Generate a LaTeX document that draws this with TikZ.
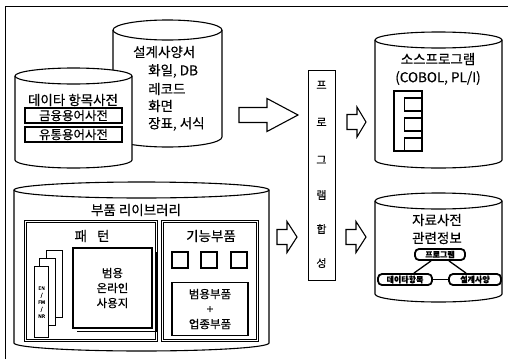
\documentclass[tikz,border=0pt]{standalone}
\usepackage{fontspec}
\setmainfont{Noto Sans CJK KR}[FakeBold=0.4]
\newcommand\cylshape[5]{%
  \pgfmathsetmacro\cylrx{(#2-#1)/2}%
  \filldraw[cylline, fill=white] (#1,#3) -- (#1,#4)
    arc[start angle=180, end angle=360, x radius=\cylrx pt, y radius=#5 pt]
    -- (#2,#3)
    arc[start angle=0, end angle=180, x radius=\cylrx pt, y radius=#5 pt] -- cycle;
  \draw[cylline] (#1,#3) arc[start angle=180, end angle=360, x radius=\cylrx pt, y radius=#5 pt];}
\newcommand\hollowarrow[6]{%
  \draw[arrowline] (#1,{#4-#5}) -- (#2,{#4-#5}) -- (#2,{#4-#6}) -- (#3,#4)
    -- (#2,{#4+#6}) -- (#2,{#4+#5}) -- (#1,{#4+#5}) -- cycle;}
\begin{document}
\begin{tikzpicture}[x=1pt,y=-1pt,
  cylline/.style={line width=1.1pt},
  arrowline/.style={line width=1.1pt, fill=white, line join=miter},
  lbl/.style={inner sep=0pt, font=\fontsize{13.5}{15}\selectfont},
  small/.style={inner sep=0pt, font=\fontsize{11}{13}\selectfont},
  boxed/.style={draw, line width=1.6pt, inner sep=0pt, font=\fontsize{12.5}{14}\selectfont},
  panel/.style={draw, double, line width=0.7pt, double distance=1.2pt, inner sep=0pt},
  sq/.style={draw, line width=1.3pt, minimum width=16pt, minimum height=16pt, inner sep=0pt},
  thickbox/.style={draw, line width=1.4pt, inner sep=0pt, align=center},
  pill/.style={draw, line width=1.8pt, rounded corners=4pt, inner sep=0pt, font=\fontsize{8}{9}\selectfont\bfseries},
  card/.style={draw, line width=1.2pt, fill=white, inner sep=0pt, anchor=north west},
  link/.style={line width=1.3pt}]
\useasboundingbox (0,0) rectangle (508,359);
% outer frame
\draw[line width=1pt] (5,359) -- (5,6) -- (508,6);

% design specification cylinder
\cylshape{113}{222}{30}{137}{10}
\node[lbl, anchor=west] (spec1) at (133,52) {설계사양서};
\node[lbl, anchor=west] (spec2) at (148,71) {화일, DB};
\node[lbl, anchor=west] (spec3) at (148,89) {레코드};
\node[lbl, anchor=west] (spec4) at (148,106) {화면};
\node[lbl, anchor=west] (spec5) at (148,124) {장표, 서식};

% data item dictionary cylinder
\cylshape{15}{132}{76}{160}{8}
\node[lbl] (dict) at (73,100) {데이타 항목사전};
\node[boxed, minimum width=97pt, minimum height=15pt] (fin) at (73.5,115.5) {금융용어사전};
\node[boxed, minimum width=97pt, minimum height=15pt] (dist) at (73.5,134.5) {유통용어사전};

% big hollow arrow
\hollowarrow{239}{267}{298}{115}{7.5}{16.5}

% program synthesis bar
\node[draw, line width=1.1pt, minimum width=27pt, minimum height=210pt, anchor=north west, inner sep=0pt] (bar) at (308,70) {};
\node[small] (b1) at (321.5,85) {프};
\node[small] (b2) at (321.5,122) {로};
\node[small] (b3) at (321.5,160) {그};
\node[small] (b4) at (321.5,195) {램};
\node[small] (b5) at (321.5,229) {합};
\node[small] (b6) at (321.5,263) {성};

% small arrows
\hollowarrow{347}{357}{366}{122}{7.5}{15}
\hollowarrow{277}{287}{297}{237}{7.5}{15.5}
\hollowarrow{346}{356}{366}{237}{7.5}{15.5}

% source program cylinder
\cylshape{375}{502}{40}{160}{8}
\node[lbl] (src1) at (438,59) {소스프로그램};
\node[lbl] (src2) at (438,78) {(COBOL, PL/I)};
\node[draw, line width=1.3pt, minimum width=28pt, minimum height=60pt, inner sep=0pt] (stack) at (408,121) {};
\node[draw, line width=1.3pt, minimum width=17pt, minimum height=13pt, inner sep=0pt] (s1) at (413,104.5) {};
\node[draw, line width=1.3pt, minimum width=17pt, minimum height=13pt, inner sep=0pt] (s2) at (413,124.5) {};
\node[draw, line width=1.3pt, minimum width=17pt, minimum height=13pt, inner sep=0pt] (s3) at (413,144.5) {};

% data dictionary cylinder
\cylshape{375}{502}{201}{294}{8}
\node[lbl] (dd1) at (437,220) {자료사전};
\node[lbl] (dd2) at (437,238) {관련정보};
\node[pill, minimum width=50pt, minimum height=11pt] (prog) at (440,254.5) {프로그램};
\node[pill, minimum width=54pt, minimum height=11pt] (ditem) at (405,279.5) {데이타항목};
\node[pill, minimum width=52pt, minimum height=11pt] (sspec) at (475,279.5) {설계사양};
\draw[link] (prog) -- (ditem);
\draw[link] (prog) -- (sspec);
\draw[link] (ditem) -- (sspec);

% parts library cylinder
\cylshape{14}{269}{190}{343}{8}
\node[lbl] (lib) at (136,210) {부품 리이브러리};
\node[panel, minimum width=131pt, minimum height=119pt, anchor=north west] (pat) at (25,221) {};
\node[panel, minimum width=95pt, minimum height=119pt, anchor=north west] (func) at (162,221) {};
\node[lbl] (patt) at (92,236) {패\hspace{10pt}턴};
\node[lbl] (funct) at (211,236) {기능부품};
\node[sq] (q1) at (180,260) {};
\node[sq] (q2) at (209,260) {};
\node[sq] (q3) at (239,260) {};
\node[thickbox, minimum width=76pt, minimum height=53pt, font=\fontsize{11.5}{15}\selectfont] (comp) at (210,309) {범용부품\\+\\업종부품};
% pattern panel contents
\draw[line width=1pt] (156,252) -- (156,331) -- (77,331);
\node[thickbox, minimum width=79pt, minimum height=80pt, fill=white, font=\fontsize{11.5}{15}\selectfont] (online) at (112.5,288) {범용\\온라인\\사용지};
\node[card, minimum width=16pt, minimum height=67pt] (c3) at (46,250) {};
\node[card, minimum width=16pt, minimum height=67pt] (c2) at (39,258) {};
\node[card, minimum width=14pt, minimum height=71pt, align=center, font=\fontsize{5}{7}\selectfont\itshape] (c1) at (34,266) {EN\\/\\FM\\/\\NR};
\end{tikzpicture}
\end{document}
